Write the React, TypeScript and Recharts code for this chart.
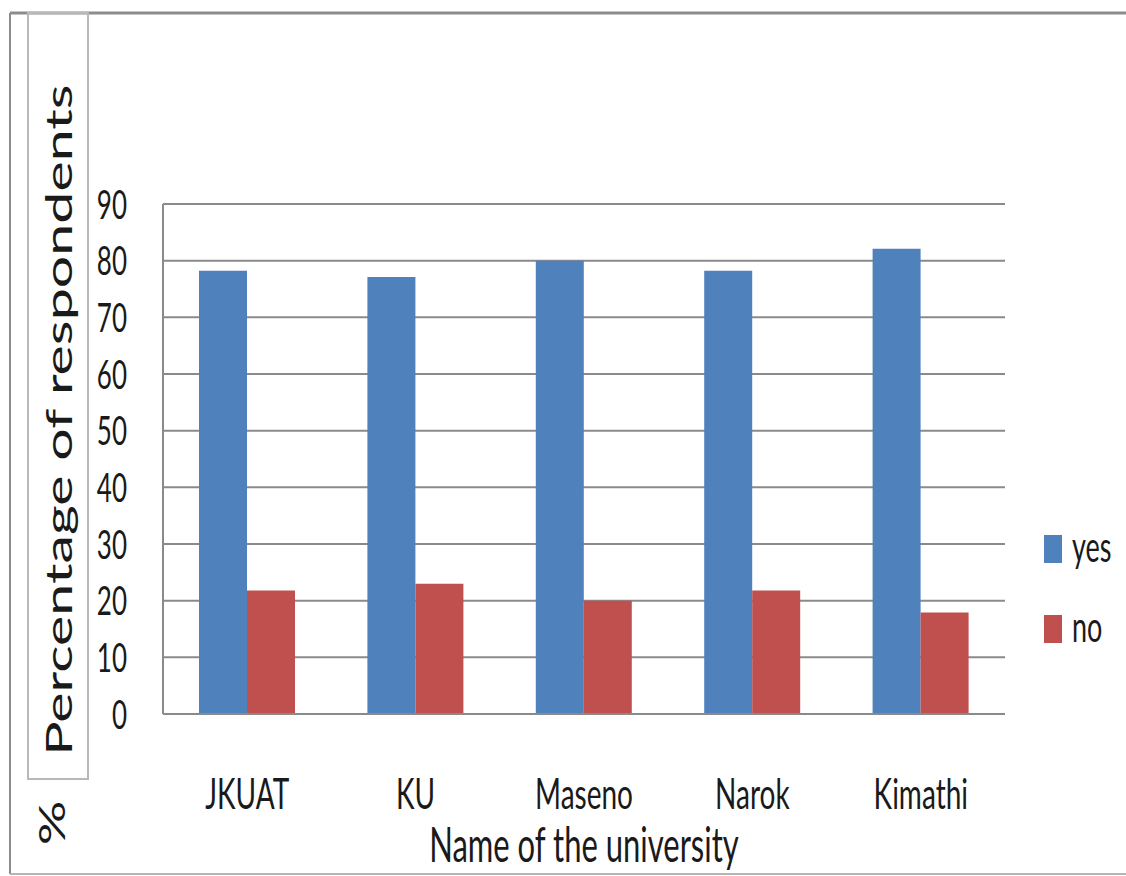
import { BarChart, Bar, XAxis, YAxis, CartesianGrid, Legend } from 'recharts'

const universities = ['JKUAT', 'KU', 'Maseno', 'Narok', 'Kimathi']
const yesValues = [78.2, 77.1, 80.0, 78.2, 82.1]
const noValues = [21.8, 23.0, 20.0, 21.8, 17.9]
const seriesKeys = ['yes', 'no']
const yTicks = [0, 10, 20, 30, 40, 50, 60, 70, 80, 90]

const data = universities.map((name, i) => ({ name, yes: yesValues[i], no: noValues[i] }))

// the source picture is stretched vertically, so text gets the same stretch
const STRETCH = 1.55
const FONT = 'Lato, "Open Sans", sans-serif'
const GRID = '#8a8a8a'
const INK = '#1a1a1a'

const YTick = ({ x, y, payload }: any) => (
  <g transform={`translate(${x},${y}) scale(1,${STRETCH})`}>
    <text x={0} y={0} dy="0.36em" textAnchor="end" fontSize={26} fill={INK} fontFamily={FONT}>
      {payload.value}
    </text>
  </g>
)

const XTick = ({ x, y, payload }: any) => (
  <g transform={`translate(${x},${y + 95}) scale(1,${STRETCH})`}>
    <text x={0} y={0} textAnchor="middle" fontSize={28} fill={INK} fontFamily={FONT}>
      {payload.value}
    </text>
  </g>
)

const renderLegend = ({ payload }: any) => {
  const items = [...(payload || [])].sort(
    (a: any, b: any) => seriesKeys.indexOf(a.dataKey) - seriesKeys.indexOf(b.dataKey)
  )
  return (
    <svg width={80} height={120} style={{ overflow: 'visible' }}>
      {items.map((p: any, i: number) => (
        <g key={p.value} transform={`translate(0,${i * 80})`}>
          <rect x={0} y={0} width={18} height={28} fill={p.color} />
          <g transform={`translate(28,27) scale(1,${STRETCH})`}>
            <text x={0} y={0} fontSize={27} fill={INK} fontFamily={FONT}>{p.value}</text>
          </g>
        </g>
      ))}
    </svg>
  )
}

export default function App() {
  return (
    <div style={{ position: 'relative', width: 1126, height: 876, overflow: 'hidden', background: '#fff' }}>
      <style>{'body { margin: 0; overflow: hidden; }'}</style>
      <BarChart
        width={1126}
        height={876}
        data={data}
        margin={{ top: 204, right: 41, bottom: 102, left: 93 }}
        barCategoryGap={36}
        barGap={0}
      >
        <CartesianGrid vertical={false} stroke={GRID} strokeWidth={2} />
        <XAxis
          dataKey="name"
          height={60}
          tickSize={0}
          tickMargin={0}
          axisLine={{ stroke: GRID, strokeWidth: 2 }}
          tickLine={false}
          tick={<XTick />}
        />
        <YAxis
          domain={[0, 90]}
          ticks={yTicks}
          width={70}
          tickSize={0}
          tickMargin={36}
          axisLine={{ stroke: GRID, strokeWidth: 2 }}
          tickLine={false}
          tick={<YTick />}
        />
        <Legend
          content={renderLegend}
          layout="vertical"
          verticalAlign="top"
          align="right"
          wrapperStyle={{ position: 'absolute', left: 1044, top: 535, width: 80 }}
        />
        <Bar dataKey="yes" name="yes" fill="#4F81BD" isAnimationActive={false} />
        <Bar dataKey="no" name="no" fill="#C0504D" isAnimationActive={false} />
      </BarChart>
      <svg
        width={1126}
        height={876}
        style={{ position: 'absolute', left: 0, top: 0, pointerEvents: 'none' }}
      >
        <line x1={10} y1={13} x2={1126} y2={13} stroke="#8c8c8c" strokeWidth={3} />
        <line x1={10} y1={13} x2={10} y2={874} stroke="#8c8c8c" strokeWidth={2} />
        <line x1={10} y1={874} x2={1126} y2={874} stroke="#b5b5b5" strokeWidth={2} />
        <rect x={28} y={13} width={60} height={766} fill="none" stroke="#b8b8b8" strokeWidth={2} />
        <g transform={`translate(72,420) scale(1,${STRETCH}) rotate(-90)`}>
          <text x={0} y={0} textAnchor="middle" fontSize={37} fill={INK} fontFamily={FONT}>
            Percentage of respondents
          </text>
        </g>
        <g transform={`translate(65,823) scale(1,${STRETCH}) rotate(-90)`}>
          <text x={0} y={0} textAnchor="middle" fontSize={36} fill={INK} fontFamily={FONT}>
            %
          </text>
        </g>
        <g transform={`translate(584,862) scale(1,${STRETCH})`}>
          <text x={0} y={0} textAnchor="middle" fontSize={31} fill={INK} fontFamily={FONT}>
            Name of the university
          </text>
        </g>
      </svg>
    </div>
  )
}
